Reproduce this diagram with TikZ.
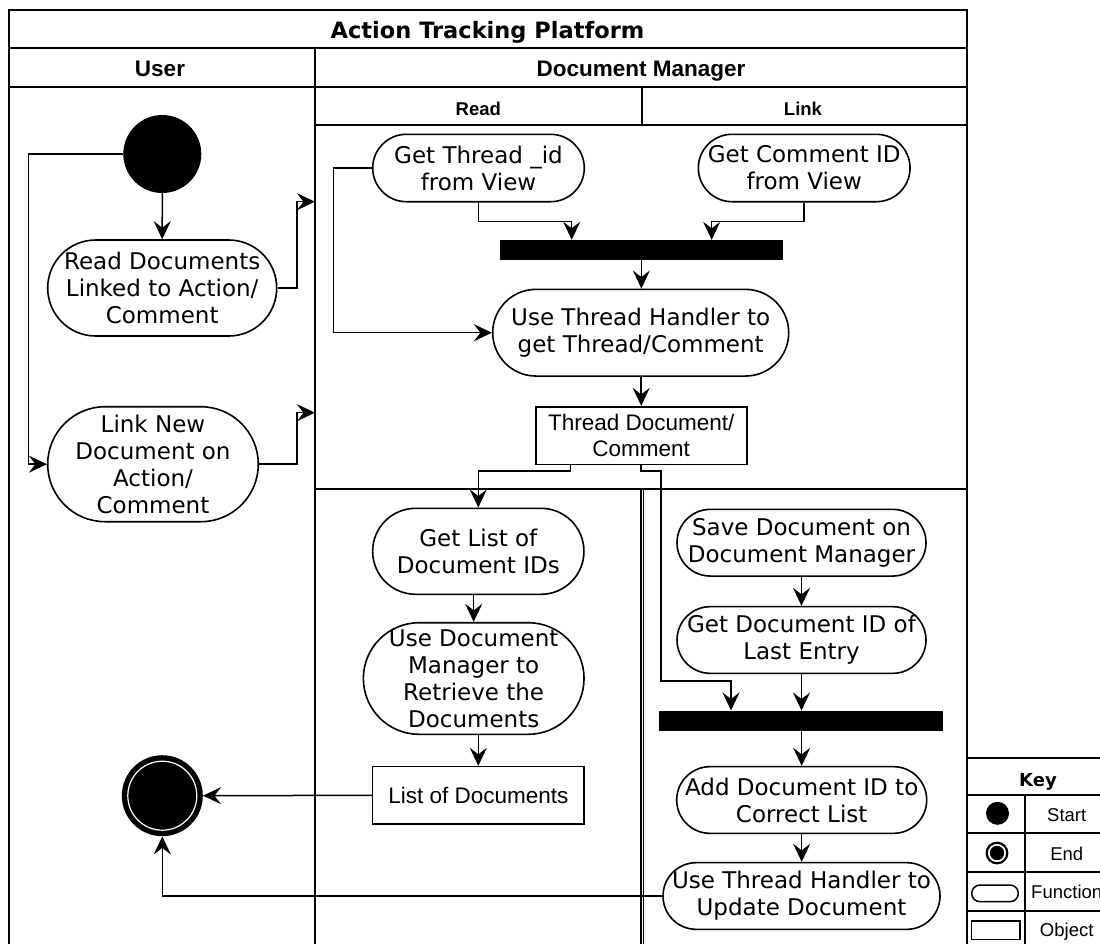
\documentclass[tikz,border=0pt]{standalone}
\usepackage{fontspec}
\usetikzlibrary{arrows.meta}
\newfontfamily\dvs{DejaVu Sans}
\newfontfamily\lib{Liberation Sans}
\newcommand\ntxt{\dvs\fontsize{23pt}{26.9pt}\selectfont}
\newcommand\otxt{\lib\fontsize{22.5pt}{26.7pt}\selectfont}
\tikzset{
  lane/.style={line width=2pt},
  fn/.style={draw, line width=1.6pt, fill=white, inner sep=0pt, align=center, font=\ntxt},
  obj/.style={draw, line width=1.6pt, fill=white, inner sep=0pt, align=center, font=\otxt},
  bar/.style={fill=black, inner sep=0pt},
  arr/.style={line width=1.5pt, -{Stealth[length=18pt,width=17pt,inset=6.5pt]}},
  lanehead/.style={anchor=base, inner sep=0pt, font=\lib\bfseries\fontsize{22.5pt}{27pt}\selectfont},
  subhead/.style={anchor=base, inner sep=0pt, font=\lib\bfseries\fontsize{18.5pt}{22pt}\selectfont},
  keytxt/.style={anchor=base, inner sep=0pt, font=\lib\fontsize{18.5pt}{22pt}\selectfont},
}
\begin{document}
\begin{tikzpicture}[x=1pt,y=-1pt]
\useasboundingbox (0,0) rectangle (1100,943);
\clip (0,0) rectangle (1100,943);
\fill[white] (0,0) rectangle (1100,943);

% pool and swimlanes
\draw[lane] (9,10) rectangle (966.7,960);
\draw[lane] (9,48.3) -- (966.7,48.3);
\draw[lane] (9,86.7) -- (966.7,86.7);
\draw[lane] (315,48.3) -- (315,960);
\draw[lane] (315,125) -- (966.7,125);
\draw[lane] (641.7,86.7) -- (641.7,125);
\draw[lane] (315,489) -- (966.7,489);
\draw[line width=1.6pt] (641,489) -- (641,960);
\draw[line width=1.6pt] (643.4,489) -- (643.4,960);

\node[anchor=base, inner sep=0pt, font=\dvs\bfseries\fontsize{22.5pt}{27pt}\selectfont] (title) at (487.5,38.3) {Action Tracking Platform};
\node[lanehead] (huser) at (160,76) {User};
\node[lanehead] (hdm) at (641,76) {Document Manager};
\node[subhead] (hread) at (478.3,115) {Read};
\node[subhead] (hlink) at (803,115) {Link};

% User lane
\node[circle, fill=black, inner sep=0pt, minimum size=78pt] (start) at (162.3,154) {};
\node[fn, minimum width=229pt, minimum height=96pt, rounded corners=48pt] (readdocs) at (162.2,288)
  {Read Documents\\Linked to Action/\\Comment};
\node[fn, minimum width=210.6pt, minimum height=115pt, rounded corners=57.5pt] (linknew) at (153,464.2)
  {Link New\\Document on\\Action/\\Comment};
\node[circle, fill=black, inner sep=0pt, minimum size=81pt] (endnode) at (162.3,795.7) {};
\draw[white, line width=1.2pt] (endnode.center) circle (34.5pt);

% Document Manager, upper part
\node[fn, minimum width=211.6pt, minimum height=67.4pt, rounded corners=33.7pt] (getthread) at (478.5,168)
  {Get Thread \_id\\from View};
\node[fn, minimum width=211.7pt, minimum height=67.4pt, rounded corners=33.7pt] (getcomment) at (804.2,168)
  {Get Comment ID\\from View};
\node[bar, minimum width=282.7pt, minimum height=20pt] (bar1) at (641.35,250) {};
\node[fn, minimum width=296pt, minimum height=86.7pt, rounded corners=43.35pt] (usethread) at (640.7,332.7)
  {Use Thread Handler to\\get Thread/Comment};
\node[obj, minimum width=211pt, minimum height=57.6pt] (threaddoc) at (641.2,435.5)
  {Thread Document/\\Comment};

% Read, lower part
\node[fn, minimum width=211.3pt, minimum height=86pt, rounded corners=43pt] (getlist) at (478.3,551.3)
  {Get List of\\Document IDs};
\node[fn, minimum width=220.7pt, minimum height=111.6pt, rounded corners=55.8pt] (usedocmgr) at (473.7,678.5)
  {Use Document\\Manager to\\Retrieve the\\Documents};
\node[obj, minimum width=211.3pt, minimum height=57.3pt] (listdocs) at (478.3,795.3)
  {List of Documents};

% Link, lower part
\node[fn, minimum width=249pt, minimum height=66.7pt, rounded corners=33.35pt] (save) at (801.5,542.7)
  {Save Document on\\Document Manager};
\node[fn, minimum width=249pt, minimum height=66.7pt, rounded corners=33.35pt] (getdocid) at (801.5,640)
  {Get Document ID of\\Last Entry};
\node[bar, minimum width=283.4pt, minimum height=20pt] (bar2) at (801,720.7) {};
\node[fn, minimum width=250pt, minimum height=66.7pt, rounded corners=33.35pt] (adddoc) at (801.7,800)
  {Add Document ID to\\Correct List};
\node[fn, minimum width=277pt, minimum height=66.7pt, rounded corners=33.35pt] (updatedoc) at (801.5,896)
  {Use Thread Handler to\\Update Document};

% bend points and lane entry points
\coordinate (startbend) at (28.3,464.2);
\coordinate (dmin1) at (315,201.7);
\coordinate (dmin2) at (315,412.7);
\coordinate (docbend) at (661,681);

% flows
\draw[arr] (start.south) -- (readdocs.north);
\draw[arr] (start.west) -| (startbend) -- (linknew.west);
\draw[arr] (readdocs.east) -- ++(19.3,0) |- (dmin1);
\draw[arr] (linknew.east) -- ++(37.7,0) |- (dmin2);

\draw[arr] (getthread.south) -- ++(0,19) -| ([xshift=-69.65pt]bar1.north);
\draw[arr] (getcomment.south) -- ++(0,19) -| ([xshift=70.35pt]bar1.north);
\draw[arr] (getthread.west) -- ++(-38.4,0) |- (usethread.west);
\draw[arr] (bar1.south) -- (bar1.south |- usethread.north);
\draw[arr] (threaddoc.north |- usethread.south) -- (threaddoc.north);

\draw[arr] ([xshift=-70.5pt]threaddoc.south) -- ++(0,5.7) -| (getlist.north);
\draw[arr] (threaddoc.south) -- ++(0,5.7) -| (docbend) -| ([xshift=-70pt]bar2.north);

\draw[arr] (usedocmgr.north |- getlist.south) -- (usedocmgr.north);
\draw[arr] (listdocs.north |- usedocmgr.south) -- (listdocs.north);
\draw[arr] (listdocs.west) -- (endnode.east);

\draw[arr] (save.south) -- (save.south |- getdocid.north);
\draw[arr] (getdocid.south) -- (getdocid.south |- bar2.north);
\draw[arr] (bar2.south -| adddoc.north) -- (adddoc.north);
\draw[arr] (adddoc.south) -- (adddoc.south |- updatedoc.north);
\draw[arr] (updatedoc.west) -| (endnode.south);

% key
\draw[lane] (966.7,758.3) rectangle (1108,960);
\foreach \yy in {795,833.3,872.3,910.7} \draw[lane] (966.7,\yy) -- (1108,\yy);
\draw[lane] (1025,795) -- (1025,960);
\node[anchor=base, inner sep=0pt, font=\dvs\bfseries\fontsize{18pt}{22pt}\selectfont] (keytitle) at (1038,786) {Key};
\node[keytxt] (kstart) at (1066.7,821.5) {Start};
\node[keytxt] (kend) at (1066.7,860) {End};
\node[keytxt] (kfn) at (1066.7,898.5) {Function};
\node[keytxt] (kobj) at (1066.7,936) {Object};
\fill (997.5,813.3) circle (11.5pt);
\draw[line width=2.2pt] (997,853) circle (10.3pt);
\fill (997,853) circle (7.2pt);
\draw[line width=1.5pt, rounded corners=8.3pt] (971.7,885) rectangle (1018.3,901.7);
\draw[line width=1.5pt] (971.7,921) rectangle (1020,939.3);
\end{tikzpicture}
\end{document}
